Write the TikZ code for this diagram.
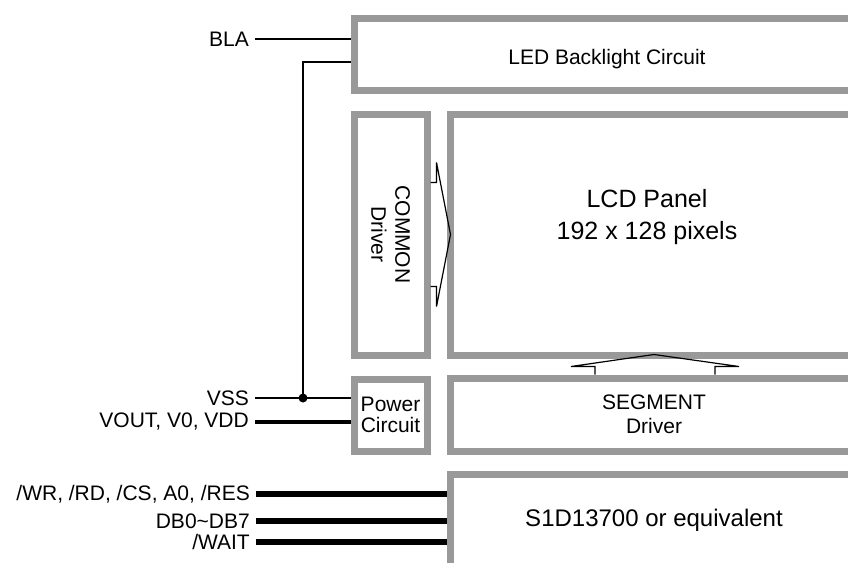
\documentclass[tikz,border=0pt]{standalone}
\usepackage{fontspec}
\setmainfont{Liberation Sans}
\usepackage{tikz}
\usetikzlibrary{calc}
\definecolor{framegray}{HTML}{999999}
\definecolor{ink}{HTML}{000000}
\tikzset{
  blockbox/.style={
    draw=framegray,
    line width=7pt,
    fill=white,
    anchor=north west,
    align=center,
    inner sep=0pt,
    font=\fontsize{21}{24}\selectfont
  },
  blocktext/.style={
    align=center,
    inner sep=0pt,
    text=ink,
    font=\fontsize{21}{24}\selectfont
  },
  pinlabel/.style={
    anchor=east,
    inner xsep=6pt,
    inner ysep=0pt,
    text=ink,
    font=\fontsize{21}{24}\selectfont
  },
  thinwire/.style={draw=ink,line width=1.8pt},
  powerwire/.style={draw=ink,line width=4.5pt},
  buswire/.style={draw=ink,line width=6pt},
  chevron/.style={draw=ink,line width=1.2pt,line join=miter}
}

\begin{document}
\begin{tikzpicture}[x=1pt,y=-1pt]
  \useasboundingbox (0,0) rectangle (848,562);
  \clip (0,0) rectangle (848,562);
  % blocks
  \node[blockbox, minimum width=506pt, minimum height=72pt, text height=20pt, text depth=0pt] (led) at (350.5,14.5) {LED Backlight Circuit};
  \node[blockbox, minimum width=73pt, minimum height=241pt] (common) at (350.5,110.5) {};
  \node[blockbox, minimum width=408pt, minimum height=241pt] (lcd) at (446.5,110.5) {};
  \node[blockbox, minimum width=73pt, minimum height=72pt, font=\fontsize{21}{21}\selectfont] (power) at (350.5,375.5) {Power\\Circuit};
  \node[blockbox, minimum width=408pt, minimum height=73pt] (seg) at (446.5,374.5) {SEGMENT\\Driver};
  \node[blockbox, minimum width=408pt, minimum height=92pt, font=\fontsize{24}{28}\selectfont] (s1d) at (446.5,470.5) {S1D13700 or equivalent};
  \node[blocktext, rotate=-90] (commontext) at (common.center) {COMMON\\Driver};
  \node[blocktext, font=\fontsize{25}{32}\selectfont] (lcdtext) at (647,217.5) {LCD Panel\\192 x 128 pixels};
  % pin labels
  \node[pinlabel] (bla) at (255,39) {BLA};
  \node[pinlabel] (vss) at (255,398) {VSS};
  \node[pinlabel] (vout) at (255,422) {VOUT, V0, VDD};
  \node[pinlabel] (ctrl) at (256,494) {/WR, /RD, /CS, A0, /RES};
  \node[pinlabel] (data) at (256,521) {DB0\textasciitilde DB7};
  \node[pinlabel] (wait) at (256,542) {/WAIT};
  % wires
  \coordinate (bend) at (303,62);
  \coordinate (tap) at (303,398);
  \draw[thinwire] (bla.east) -- (bla.east -| led.west);
  \draw[thinwire] (bend -| led.west) -- (bend) -- (tap);
  \draw[thinwire] (vss.east) -- (vss.east -| power.west);
  \fill[ink] (tap) circle (4.5);
  \draw[powerwire] (vout.east) -- (vout.east -| power.west);
  \draw[buswire] (ctrl.east) -- (ctrl.east -| s1d.west);
  \draw[buswire] (data.east) -- (data.east -| s1d.west);
  \draw[buswire] (wait.east) -- (wait.east -| s1d.west);
  % driver arrows
  \draw[chevron] ($(common.east)+(0,-52)$) -- ++(6,0) -- ++(0,-20)
    -- ($(lcd.west)+(4,0)$) -- ($(common.east)+(6,72)$) -- ++(0,-20) -- ++(-6,0);
  \draw[chevron] ($(seg.north)+(-59,0)$) -- ++(0,-8) -- ++(-24,0)
    -- ($(lcd.south)+(0,-4)$) -- ($(seg.north)+(85,-8)$) -- ++(-24,0) -- ++(0,8);
\end{tikzpicture}
\end{document}
